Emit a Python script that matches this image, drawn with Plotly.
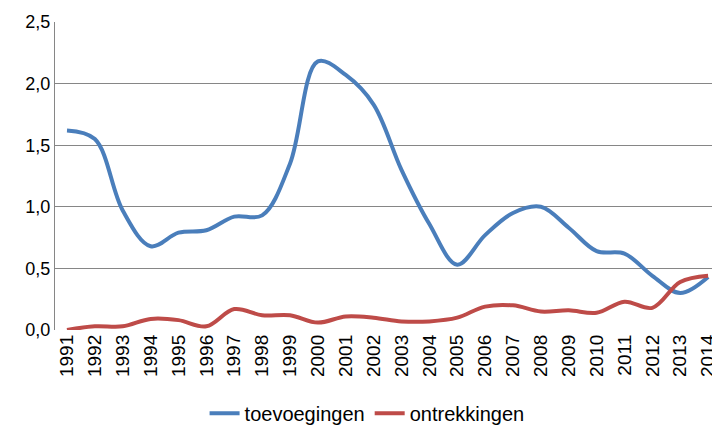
import plotly.graph_objects as go

years = list(range(1991, 2015))
toevoegingen = [1.62, 1.55, 0.97, 0.68, 0.79, 0.81, 0.92, 0.93, 1.35, 2.18,
                2.07, 1.83, 1.30, 0.86, 0.53, 0.77, 0.95, 1.00, 0.83, 0.64,
                0.62, 0.44, 0.30, 0.43]
ontrekkingen = [0.00, 0.03, 0.03, 0.09, 0.08, 0.03, 0.17, 0.12, 0.12, 0.06,
                0.11, 0.10, 0.07, 0.07, 0.10, 0.19, 0.20, 0.15, 0.16, 0.14,
                0.23, 0.18, 0.39, 0.44]
y_ticks = [0, 0.5, 1.0, 1.5, 2.0, 2.5]

FONT = "Liberation Sans, Arial, sans-serif"

fig = go.Figure()
fig.add_trace(go.Scatter(x=years, y=toevoegingen, name="toevoegingen", mode="lines",
                         line=dict(color="#4A7EBB", width=4, shape="spline", smoothing=1)))
fig.add_trace(go.Scatter(x=years, y=ontrekkingen, name="ontrekkingen", mode="lines",
                         line=dict(color="#BE4B48", width=4, shape="spline", smoothing=1)))

fig.update_layout(
    width=712, height=427,
    margin=dict(l=55, r=0, t=22, b=97, autoexpand=False),
    paper_bgcolor="white", plot_bgcolor="white",
    separators=",.",
    font=dict(family=FONT, size=18, color="#000000"),
    showlegend=True,
    legend=dict(orientation="h", x=0.475, xanchor="center", y=-0.207, yanchor="top",
                font=dict(family=FONT, size=20), traceorder="normal"),
    xaxis=dict(range=[1990.57, 2014.14], tickmode="array", tickvals=years,
               ticktext=[str(y) for y in years], tickangle=-90, showgrid=False,
               zeroline=False, showline=False, ticks="", automargin=False,
               ticklabeloverflow="allow", tickfont=dict(size=19)),
    yaxis=dict(range=[0, 2.5], tickmode="array", tickvals=y_ticks, tickformat=".1f",
               showgrid=True, gridcolor="#868686", gridwidth=1, zeroline=False,
               showline=True, linecolor="#868686", linewidth=1, ticks="",
               automargin=False, tickfont=dict(size=18)),
)

fig.write_html("out.html", config={"displayModeBar": False},
               post_script="document.body.style.margin='0';document.body.style.overflow='hidden';")
